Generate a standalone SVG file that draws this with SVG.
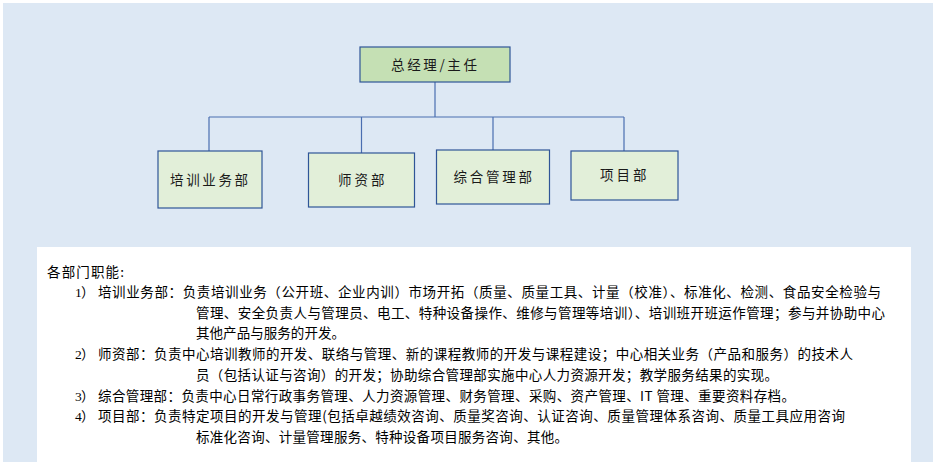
<svg xmlns="http://www.w3.org/2000/svg" width="940" height="474" viewBox="0 0 940 474">
<style>
.box{stroke:#2f5597;stroke-width:1.2}
.top{fill:#c5e0b4}
.dept{fill:#e2efd9}
.bt{font-family:"Noto Sans CJK SC","Noto Sans CJK TC",sans-serif;font-size:13.5px;fill:#1a1a1a;text-anchor:start}
.conn{stroke:#4a6eb0;stroke-width:1.2;fill:none}
.tx{font-family:"Noto Sans CJK SC","Noto Sans CJK TC",sans-serif;font-size:13.5px;fill:#000}
.num{font-family:"Liberation Serif","Noto Sans CJK SC",serif;font-size:13.5px;fill:#000}
</style>
<rect x="0" y="0" width="940" height="474" fill="#ffffff"/>
<rect x="3" y="3" width="930" height="459" fill="#dde8f4"/>
<rect x="37" y="247" width="874" height="215" fill="#ffffff"/>

<g id="connectors">
<path class="conn" d="M435 82 V117 M209 117 H624 M209 117 V151 M361.5 117 V153 M493 117 V150 M624 117 V151"/>
</g>

<g id="n0">
<rect class="box top" x="360" y="47" width="150" height="35"/>
<text class="bt" x="391" y="70" textLength="86" lengthAdjust="spacing">总经理/主任</text>
</g>
<g id="n1">
<rect class="box dept" x="158" y="151" width="104" height="57"/>
<text class="bt" x="170" y="185" textLength="78" lengthAdjust="spacing">培训业务部</text>
</g>
<g id="n2">
<rect class="box dept" x="308.5" y="153" width="106" height="54"/>
<text class="bt" x="338" y="185" textLength="46.5" lengthAdjust="spacing">师资部</text>
</g>
<g id="n3">
<rect class="box dept" x="436.5" y="150" width="113" height="54"/>
<text class="bt" x="453.5" y="182" textLength="78.5" lengthAdjust="spacing">综合管理部</text>
</g>
<g id="n4">
<rect class="box dept" x="571" y="151" width="107" height="49"/>
<text class="bt" x="600" y="180" textLength="46.5" lengthAdjust="spacing">项目部</text>
</g>

<g id="notes">
<text class="tx" x="47" y="277" textLength="77" lengthAdjust="spacing">各部门职能:</text>
<text class="num" x="75" y="297">1</text><text class="tx" x="81" y="297">）</text>
<text class="tx" x="98" y="297" textLength="783" lengthAdjust="spacing">培训业务部：负责培训业务（公开班、企业内训）市场开拓（质量、质量工具、计量（校准）、标准化、检测、食品安全检验与</text>
<text class="tx" x="196" y="318" textLength="689" lengthAdjust="spacing">管理、安全负责人与管理员、电工、特种设备操作、维修与管理等培训）、培训班开班运作管理；参与并协助中心</text>
<text class="tx" x="196" y="338" textLength="149" lengthAdjust="spacing">其他产品与服务的开发。</text>
<text class="num" x="75" y="359">2</text><text class="tx" x="81" y="359">）</text>
<text class="tx" x="98" y="359" textLength="755" lengthAdjust="spacing">师资部：负责中心培训教师的开发、联络与管理、新的课程教师的开发与课程建设；中心相关业务（产品和服务）的技术人</text>
<text class="tx" x="196" y="380" textLength="582" lengthAdjust="spacing">员（包括认证与咨询）的开发；协助综合管理部实施中心人力资源开发；教学服务结果的实现。</text>
<text class="num" x="75" y="401">3</text><text class="tx" x="81" y="401">）</text>
<text class="tx" x="98" y="401" textLength="697" lengthAdjust="spacing">综合管理部：负责中心日常行政事务管理、人力资源管理、财务管理、采购、资产管理、IT 管理、重要资料存档。</text>
<text class="num" x="75" y="421">4</text><text class="tx" x="81" y="421">）</text>
<text class="tx" x="98" y="421" textLength="747" lengthAdjust="spacing">项目部：负责特定项目的开发与管理(包括卓越绩效咨询、质量奖咨询、认证咨询、质量管理体系咨询、质量工具应用咨询</text>
<text class="tx" x="196" y="442" textLength="372" lengthAdjust="spacing">标准化咨询、计量管理服务、特种设备项目服务咨询、其他。</text>
</g>
</svg>
